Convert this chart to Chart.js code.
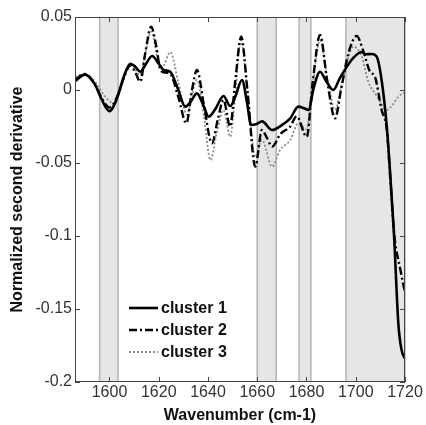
<!DOCTYPE html>
<html lang="en">
<head>
  <meta charset="UTF-8">
  <title>Normalized second derivative</title>
  <script src="https://cdn.jsdelivr.net/npm/chart.js"></script>
  <style>
    html, body { margin: 0; padding: 0; background: #fff; }
    #wrap { width: 426px; height: 425px; }
  </style>
</head>
<body>
  <div id="wrap"><canvas id="chart" width="426" height="425"></canvas></div>
  <script>
    // data
    const xTicks = [1600, 1620, 1640, 1660, 1680, 1700, 1720];
    const yTicks = [-0.2, -0.15, -0.1, -0.05, 0, 0.05];
    const yTickLabels = ['-0.2', '-0.15', '-0.1', '-0.05', '0', '0.05'];
    const bands = [[1596, 1603.5], [1660, 1667.7], [1677, 1681.8], [1696, 1720]];

    const wn1 = [1586, 1590, 1594, 1597, 1600, 1603, 1606, 1608.5, 1610.5, 1612.5, 1614.5, 1617.3, 1620, 1622, 1624.7,
      1627.5, 1630.8, 1633, 1635.5, 1638, 1640.3, 1643, 1646.3, 1649, 1651, 1653.8, 1655.8, 1657.5, 1659.5, 1662,
      1666, 1670, 1673.4, 1676.7, 1679, 1680.8, 1683, 1685.5, 1688, 1690.9, 1693.5, 1696.4, 1699, 1702.4, 1704,
      1706.5, 1708.5, 1710.5, 1712.6, 1713.9, 1715.5, 1717.3, 1718.6, 1720];
    const cluster1 = [0.006, 0.0105, 0.004, -0.007, -0.0145, -0.006, 0.01, 0.018, 0.016, 0.0125, 0.017, 0.0233, 0.018, 0.0137, 0.0125,
      0.002, -0.0114, -0.008, -0.0023, -0.01, -0.0183, -0.013, -0.0041, -0.011, -0.005, 0.0068, -0.008, -0.024, -0.0235, -0.0215,
      -0.0274, -0.024, -0.0194, -0.0114, -0.0125, -0.0137, 0.002, 0.0125, 0.006, 0, 0.008, 0.016, 0.022, 0.026, 0.0245,
      0.0247, 0.0228, 0.0068, -0.025, -0.055, -0.098, -0.16, -0.178, -0.184];

    const wn2 = [1586, 1590, 1594, 1597, 1600, 1603, 1606, 1608.5, 1610.5, 1612.5, 1614.5, 1616.9, 1619, 1620.7, 1622.5,
      1624.7, 1628, 1631.2, 1633.5, 1635.5, 1638.5, 1641.6, 1644, 1646.3, 1649, 1651, 1653.5, 1656, 1659.2, 1661.9,
      1664, 1666, 1669.5, 1673.4, 1676, 1680.1, 1682.5, 1685.5, 1688.5, 1691.6, 1694, 1697, 1700.4, 1703, 1705.8,
      1707.8, 1710.5, 1712.6, 1714, 1715.7, 1718, 1720];
    const cluster2 = [0.007, 0.011, 0.004, -0.006, -0.012, -0.005, 0.009, 0.017, 0.012, 0.0057, 0.025, 0.0434, 0.03, 0.0137, 0.012,
      0.011, -0.005, -0.0228, 0, 0.0137, -0.012, -0.0365, -0.02, -0.0068, -0.025, 0.005, 0.0365, 0, -0.0525, -0.0274,
      -0.033, -0.0388, -0.03, -0.025, -0.018, -0.032, 0.005, 0.0377, 0.005, -0.0194, 0, 0.025, 0.037, 0.027, 0.0125,
      0.009, -0.0137, -0.027, -0.06, -0.1, -0.122, -0.139];

    const wn3 = [1586, 1590, 1594, 1598, 1601.7, 1604.5, 1608.5, 1610.5, 1612.5, 1614.5, 1617, 1619.5, 1621.5, 1624.7, 1628,
      1631.5, 1633.5, 1635.5, 1638.5, 1641, 1643.5, 1646.3, 1649, 1651, 1653.3, 1656, 1659.2, 1661.9, 1666, 1669.3,
      1673.4, 1676.7, 1680, 1682.5, 1685.5, 1688.5, 1691.6, 1694.5, 1699, 1702.4, 1705.1, 1708.5, 1712.6, 1715, 1717.3, 1720];
    const cluster3 = [0.009, 0.011, 0.006, -0.004, -0.009, 0.004, 0.018, 0.014, 0.01, 0.025, 0.04, 0.022, 0.016, 0.026, 0.005,
      -0.017, -0.003, 0.007, -0.02, -0.048, -0.03, -0.0137, -0.032, -0.005, 0.034, 0, -0.046, -0.034, -0.0525, -0.041,
      -0.0343, -0.0228, -0.027, 0.004, 0.034, 0.008, -0.0137, 0.005, 0.0297, 0.023, 0.0057, -0.004, -0.0137, -0.01, -0.0046, -0.0015];

    const toPoints = (xs, ys) => xs.map((x, i) => ({ x: x, y: ys[i] }));

    // shaded wavenumber bands behind the curves
    const bandPlugin = {
      id: 'bands',
      beforeDatasetsDraw(chart) {
        const { ctx, chartArea: a, scales: { x } } = chart;
        ctx.save();
        bands.forEach(([b0, b1]) => {
          const p0 = x.getPixelForValue(b0), p1 = Math.min(x.getPixelForValue(b1), a.right);
          ctx.fillStyle = '#e6e6e6';
          ctx.fillRect(p0, a.top, p1 - p0, a.bottom - a.top);
          ctx.strokeStyle = '#b4b4b4';
          ctx.lineWidth = 1.5;
          ctx.beginPath();
          ctx.moveTo(p0, a.top); ctx.lineTo(p0, a.bottom);
          ctx.moveTo(p1, a.top); ctx.lineTo(p1, a.bottom);
          ctx.stroke();
        });
        ctx.restore();
      }
    };

    // matlab style box with inward ticks, plus the legend
    const boxPlugin = {
      id: 'box',
      afterDatasetsDraw(chart) {
        const { ctx, chartArea: a, scales: { x, y } } = chart;
        ctx.save();
        ctx.strokeStyle = '#444';
        ctx.lineWidth = 1;
        ctx.strokeRect(a.left + 0.5, a.top + 0.5, a.right - a.left - 1, a.bottom - a.top - 1);
        ctx.beginPath();
        xTicks.forEach(v => {
          const px = Math.round(x.getPixelForValue(v)) + 0.5;
          ctx.moveTo(px, a.bottom); ctx.lineTo(px, a.bottom - 5);
          ctx.moveTo(px, a.top); ctx.lineTo(px, a.top + 5);
        });
        yTicks.forEach(v => {
          const py = Math.round(y.getPixelForValue(v)) + 0.5;
          ctx.moveTo(a.left, py); ctx.lineTo(a.left + 5, py);
          ctx.moveTo(a.right, py); ctx.lineTo(a.right - 5, py);
        });
        ctx.stroke();

        // legend
        const rows = [308, 330, 352];
        ctx.font = 'bold 16px "Liberation Sans", Arial, sans-serif';
        ctx.textBaseline = 'middle';
        chart.data.datasets.forEach((ds, i) => {
          ctx.strokeStyle = ds.borderColor;
          ctx.lineWidth = ds.borderWidth;
          ctx.setLineDash(ds.borderDash || []);
          ctx.beginPath();
          ctx.moveTo(129, rows[i]); ctx.lineTo(158, rows[i]);
          ctx.stroke();
          ctx.setLineDash([]);
          ctx.fillStyle = '#111';
          ctx.fillText(ds.label, 161, rows[i] + 1);
        });
        ctx.restore();
      }
    };

    const ctx = document.getElementById('chart').getContext('2d');
    new Chart(ctx, {
      type: 'line',
      data: {
        datasets: [
          { label: 'cluster 1', data: toPoints(wn1, cluster1), borderColor: '#000', borderWidth: 2.6 },
          { label: 'cluster 2', data: toPoints(wn2, cluster2), borderColor: '#000', borderWidth: 2.4, borderDash: [8, 3, 2, 3] },
          { label: 'cluster 3', data: toPoints(wn3, cluster3), borderColor: '#8a8a8a', borderWidth: 1.8, borderDash: [2, 2] }
        ]
      },
      options: {
        responsive: false,
        animation: false,
        layout: { padding: { top: 17, right: 21, left: 0, bottom: 0 } },
        elements: {
          point: { radius: 0 },
          line: { cubicInterpolationMode: 'monotone', fill: false }
        },
        plugins: { legend: { display: false }, tooltip: { enabled: false } },
        scales: {
          x: {
            type: 'linear',
            min: 1586,
            max: 1720,
            afterBuildTicks: s => { s.ticks = xTicks.map(v => ({ value: v })); },
            afterFit: s => { s.height = 43; },
            grid: { display: false, drawTicks: false, tickLength: 0 },
            border: { display: false },
            ticks: { color: '#333', font: { size: 16, family: '"Liberation Sans", Arial' }, padding: 1, maxRotation: 0, autoSkip: false,
              callback: v => String(v) },
            title: { display: true, text: 'Wavenumber (cm-1)', color: '#111', padding: 0,
              font: { size: 16, weight: 'bold', family: '"Liberation Sans", Arial' } }
          },
          y: {
            min: -0.2,
            max: 0.05,
            afterBuildTicks: s => { s.ticks = yTicks.map(v => ({ value: v })); },
            afterFit: s => { s.width = 75; },
            grid: { display: false, drawTicks: false, tickLength: 0 },
            border: { display: false },
            ticks: { color: '#333', font: { size: 16, family: '"Liberation Sans", Arial' }, padding: 3, autoSkip: false,
              callback: (v, i) => yTickLabels[i] },
            title: { display: true, text: 'Normalized second derivative', color: '#111', padding: { top: 8, bottom: 0 },
              font: { size: 16, weight: 'bold', family: '"Liberation Sans", Arial' } }
          }
        }
      },
      plugins: [bandPlugin, boxPlugin]
    });
  </script>
</body>
</html>
